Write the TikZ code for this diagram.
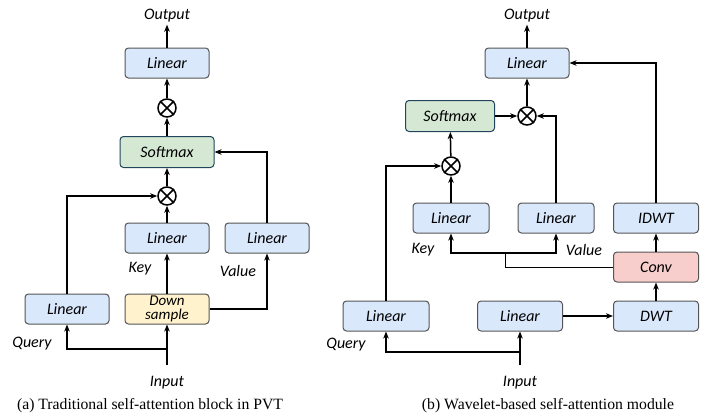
\documentclass[tikz,border=0pt]{standalone}
\usepackage{fontspec}
\setmainfont{Liberation Serif}
\newfontfamily\labelfont{Carlito}
\usetikzlibrary{arrows.meta}
\definecolor{boxline}{HTML}{555555}
\definecolor{bluefill}{HTML}{DAE8FC}
\definecolor{greenfill}{HTML}{D5E8D4}
\definecolor{greenline}{HTML}{23445D}
\definecolor{yellowfill}{HTML}{FFF2CC}
\definecolor{pinkfill}{HTML}{F8CECC}
\begin{document}
\begin{tikzpicture}[x=1pt,y=-1pt,
  blk/.style={draw=boxline, fill=bluefill, line width=1pt, rounded corners=3.5pt,
    minimum width=84pt, minimum height=30pt, inner sep=0pt,
    font=\labelfont\itshape\fontsize{16}{16}\selectfont},
  smx/.style={blk, fill=greenfill, draw=greenline},
  dsb/.style={blk, fill=yellowfill, align=center,
    font=\labelfont\itshape\fontsize{15}{14.5}\selectfont},
  cvb/.style={blk, fill=pinkfill},
  lbl/.style={inner sep=2pt, font=\labelfont\itshape\fontsize{16}{16}\selectfont},
  captext/.style={inner sep=0pt, font=\fontsize{15.7}{15.7}\selectfont},
  mul/.style={circle, draw=black, line width=1.5pt, minimum size=18pt, inner sep=0pt},
  arr/.style={line width=1.5pt, -{Stealth[length=7pt,width=5.5pt,inset=2pt]}},
  wire/.style={line width=1.5pt},
  thinwire/.style={line width=1pt},
]
\useasboundingbox (0,0) rectangle (715,418);

% ---------------- (a) PVT self-attention ----------------
\node[lbl] (out1) at (167,16) {Output};
\node[blk] (lo) at (167,63) {Linear};
\node[mul] (m2) at (167,108) {};
\node[smx, minimum width=94pt, minimum height=31pt] (sm1) at (167,152) {Softmax};
\node[mul] (m1) at (167,196) {};
\node[blk] (lk) at (167,238) {Linear};
\node[blk] (lv) at (267,238) {Linear};
\node[blk] (lq) at (67,309) {Linear};
\node[dsb] (ds) at (167,309) {Down\\sample};
\node[lbl] (in1) at (167,383) {Input};
\node[lbl] (key1) at (140,269) {Key};
\node[lbl] (val1) at (238,271) {Value};
\node[lbl] (qry1) at (32,344) {Query};
\coordinate (src1) at (167,365);
\coordinate (br1) at (167,349);

\foreach \m in {m1,m2}
  \draw[wire] (\m.north west) -- (\m.south east) (\m.north east) -- (\m.south west);

\draw[arr] (lo) -- (out1);
\draw[arr] (m2) -- (lo);
\draw[arr] (sm1) -- (m2);
\draw[arr] (m1) -- (sm1);
\draw[arr] (lk) -- (m1);
\draw[arr] (ds) -- (lk);
\draw[arr] (lq.north) |- (m1.west);
\draw[arr] (lv.north) |- (sm1.east);
\draw[arr] (ds.east) -| (lv.south);
\draw[arr] (src1) -- (ds.south);
\draw[arr] (br1) -| (lq.south);

\node[captext] (capa) at (150,406) {(a) Traditional self-attention block in PVT};

% ---------------- (b) wavelet-based self-attention ----------------
\node[lbl] (out2) at (527,16) {Output};
\node[blk] (ro) at (527,63) {Linear};
\node[smx, minimum width=89pt, minimum height=31pt] (sm2) at (450,116) {Softmax};
\node[mul] (m4) at (527,116) {};
\node[mul] (m3) at (451,166) {};
\node[blk, minimum width=76pt] (rk) at (451,218) {Linear};
\node[blk, minimum width=76pt] (rv) at (556,218) {Linear};
\node[blk, minimum width=85pt] (idwt) at (656,218) {IDWT};
\node[cvb, minimum width=85pt] (conv) at (656,267) {Conv};
\node[blk, minimum width=85pt] (dwt) at (656,316) {DWT};
\node[blk, minimum width=85pt] (rin) at (520,316) {Linear};
\node[blk, minimum width=86pt] (rq) at (386,316) {Linear};
\node[lbl] (in2) at (520,383) {Input};
\node[lbl] (key2) at (423,250) {Key};
\node[lbl] (val2) at (584,250) {Value};
\node[lbl] (qry2) at (346,345) {Query};
\coordinate (src2) at (520,365);
\coordinate (br2) at (520,352);
\coordinate (sp) at (505,253);

\foreach \m in {m3,m4}
  \draw[wire] (\m.north west) -- (\m.south east) (\m.north east) -- (\m.south west);

\draw[arr] (ro) -- (out2);
\draw[arr] (m4) -- (ro);
\draw[arr] (sm2) -- (m4);
\draw[arr] (m3) -- (sm2);
\draw[arr] (rk) -- (m3);
\draw[arr] (rq.north) |- (m3.west);
\draw[arr] (rv.north) |- (m4.east);
\draw[arr] (idwt.north) |- (ro.east);
\draw[arr] (conv) -- (idwt);
\draw[arr] (dwt) -- (conv);
\draw[arr] (rin) -- (dwt);
\draw[thinwire] (conv.west) -| (sp);
\draw[arr] (sp) -| (rk.south);
\draw[arr] (sp) -| (rv.south);
\draw[arr] (src2) -- (rin.south);
\draw[arr] (br2) -| (rq.south);

\node[captext] (capb) at (548,406) {(b) Wavelet-based self-attention module};
\end{tikzpicture}
\end{document}
